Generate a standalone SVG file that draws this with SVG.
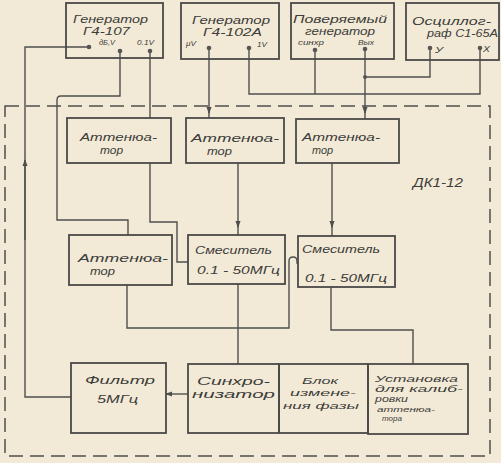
<svg xmlns="http://www.w3.org/2000/svg" width="501" height="463" viewBox="0 0 501 463">
<defs>
<style>
.bg{fill:#f2ead6}
.box{fill:none;stroke:#4a4a48;stroke-width:1.8}
.ln{fill:none;stroke:#4f4f4d;stroke-width:1.4}
.dash{fill:none;stroke:#4f4f4d;stroke-width:1.5;stroke-dasharray:14 7}
.t{font-family:"Liberation Sans","DejaVu Sans",sans-serif;font-style:italic;font-size:11px;fill:#3c3c3a}
.s{font-size:9px}
.xs{font-size:7px}
.u{font-size:8px}
.dot{fill:#555553}
</style>
<marker id="ar" viewBox="0 0 8 8" refX="7" refY="4" markerWidth="7" markerHeight="7" orient="auto" markerUnits="userSpaceOnUse">
<path d="M0,1 L8,4 L0,7 Z" fill="#4f4f4d"/>
</marker>
</defs>
<rect class="bg" x="0" y="0" width="501" height="463"/>
<path class="dash" d="M5,106 H490 V456 H5 Z"/>
<text class="t" x="413" y="187" textLength="50" lengthAdjust="spacingAndGlyphs" style="font-size:13px">ДК1-12</text>

<g id="connectors">
<path class="ln" d="M89,47 H25 V397 H71"/>
<path class="ln" d="M25,240 V160" marker-end="url(#ar)"/>
<path class="ln" d="M120,51 V96 H61 Q57,96 57,100 V220 H128 V235"/>
<path class="ln" d="M150,51 V118"/>
<path class="ln" d="M209,48 V113" marker-end="url(#ar)"/>
<path class="ln" d="M209,111 V118"/>
<path class="ln" d="M249,48 V94 H480 V48"/>
<path class="ln" d="M315,50 V94"/>
<path class="ln" d="M365,49 V113" marker-end="url(#ar)"/>
<path class="ln" d="M365,111 V119"/>
<path class="ln" d="M365,77 H430 V48"/>
<path class="ln" d="M150,163 V222 H177 V262 H188"/>
<path class="ln" d="M238,163 V227" marker-end="url(#ar)"/>
<path class="ln" d="M238,225 V235"/>
<path class="ln" d="M332,163 V227" marker-end="url(#ar)"/>
<path class="ln" d="M332,225 V236"/>
<path class="ln" d="M127,285 V328 H289 V261 Q289,257 293,257 Q297,257 297,261 V263 H298"/>
<path class="ln" d="M238,284 V364"/>
<path class="ln" d="M331,287 V330 H413 V364"/>
<path class="ln" d="M188,394 H166" marker-end="url(#ar)"/>
<circle class="dot" cx="365" cy="77" r="2"/>
</g>

<g id="gen-g4-107">
<rect class="box" x="66" y="3" width="97" height="55"/>
<text class="t" x="73" y="23" textLength="75" lengthAdjust="spacingAndGlyphs">Генератор</text>
<text class="t" x="83" y="35" textLength="47" lengthAdjust="spacingAndGlyphs">Г4-107</text>
<text class="t u" x="99" y="45" textLength="16" lengthAdjust="spacingAndGlyphs">дБ,V</text>
<text class="t u" x="137" y="45" textLength="17" lengthAdjust="spacingAndGlyphs">0.1V</text>
<circle class="dot" cx="89" cy="47" r="2.3"/>
<circle class="dot" cx="120" cy="51" r="2.3"/>
<circle class="dot" cx="150" cy="51" r="2.3"/>
</g>

<g id="gen-g4-102a">
<rect class="box" x="181" y="3" width="98" height="56"/>
<text class="t" x="192" y="24" textLength="78" lengthAdjust="spacingAndGlyphs">Генератор</text>
<text class="t" x="203" y="36" textLength="59" lengthAdjust="spacingAndGlyphs">Г4-102А</text>
<text class="t xs" x="186" y="46" textLength="10" lengthAdjust="spacingAndGlyphs">μV</text>
<text class="t u" x="257" y="47" textLength="10" lengthAdjust="spacingAndGlyphs">1V</text>
<circle class="dot" cx="209" cy="48" r="2.3"/>
<circle class="dot" cx="249" cy="48" r="2.3"/>
</g>

<g id="gen-tested">
<rect class="box" x="291" y="3" width="103" height="56"/>
<text class="t" x="293" y="23" textLength="94" lengthAdjust="spacingAndGlyphs">Поверяемый</text>
<text class="t" x="305" y="35" textLength="70" lengthAdjust="spacingAndGlyphs">генератор</text>
<text class="t xs" x="298" y="45" textLength="26" lengthAdjust="spacingAndGlyphs">синхр</text>
<text class="t xs" x="358" y="45" textLength="16" lengthAdjust="spacingAndGlyphs">Вых</text>
<circle class="dot" cx="315" cy="50" r="2.3"/>
<circle class="dot" cx="365" cy="49" r="2.3"/>
</g>

<g id="oscilloscope">
<rect class="box" x="406" y="3" width="93" height="57"/>
<text class="t" x="412" y="25" textLength="79" lengthAdjust="spacingAndGlyphs">Осциллог-</text>
<text class="t" x="427" y="37" textLength="71" lengthAdjust="spacingAndGlyphs">раф С1-65А</text>
<text class="t s" x="435" y="53" textLength="8" lengthAdjust="spacingAndGlyphs">У</text>
<text class="t s" x="483" y="52" textLength="7" lengthAdjust="spacingAndGlyphs">Х</text>
<circle class="dot" cx="430" cy="48" r="2.3"/>
<circle class="dot" cx="480" cy="48" r="2.3"/>
</g>

<g id="att1">
<rect class="box" x="67" y="118" width="104" height="45"/>
<text class="t" x="80" y="141" textLength="77" lengthAdjust="spacingAndGlyphs">Аттенюа-</text>
<text class="t" x="100" y="154" textLength="23" lengthAdjust="spacingAndGlyphs">тор</text>
</g>

<g id="att2">
<rect class="box" x="186" y="118" width="98" height="45"/>
<text class="t" x="191" y="142" textLength="88" lengthAdjust="spacingAndGlyphs">Аттенюа-</text>
<text class="t" x="207" y="155" textLength="25" lengthAdjust="spacingAndGlyphs">тор</text>
</g>

<g id="att3">
<rect class="box" x="296" y="119" width="103" height="44"/>
<text class="t" x="302" y="141" textLength="78" lengthAdjust="spacingAndGlyphs">Аттенюа-</text>
<text class="t" x="312" y="154" textLength="21" lengthAdjust="spacingAndGlyphs">тор</text>
</g>

<g id="att4">
<rect class="box" x="69" y="235" width="103" height="50"/>
<text class="t" x="78" y="262" textLength="90" lengthAdjust="spacingAndGlyphs">Аттенюа-</text>
<text class="t" x="90" y="275" textLength="25" lengthAdjust="spacingAndGlyphs">тор</text>
</g>

<g id="mixer1">
<rect class="box" x="188" y="235" width="97" height="49"/>
<text class="t" x="195" y="254" textLength="77" lengthAdjust="spacingAndGlyphs">Смеситель</text>
<text class="t" x="197" y="274" textLength="83" lengthAdjust="spacingAndGlyphs">0.1 - 50МГц</text>
</g>

<g id="mixer2">
<rect class="box" x="298" y="236" width="97" height="51"/>
<text class="t" x="302" y="253" textLength="78" lengthAdjust="spacingAndGlyphs">Смеситель</text>
<text class="t" x="305" y="282" textLength="82" lengthAdjust="spacingAndGlyphs">0.1 - 50МГц</text>
</g>

<g id="filter">
<rect class="box" x="71" y="363" width="95" height="70"/>
<text class="t" x="85" y="384" textLength="70" lengthAdjust="spacingAndGlyphs">Фильтр</text>
<text class="t" x="97" y="403" textLength="41" lengthAdjust="spacingAndGlyphs">5МГц</text>
</g>

<g id="sync">
<rect class="box" x="188" y="364" width="91" height="69"/>
<text class="t" x="197" y="385" textLength="73" lengthAdjust="spacingAndGlyphs">Синхро-</text>
<text class="t" x="192" y="398" textLength="83" lengthAdjust="spacingAndGlyphs">низатор</text>
</g>

<g id="phase">
<rect class="box" x="279" y="364" width="89" height="69"/>
<text class="t s" x="302" y="384" textLength="36" lengthAdjust="spacingAndGlyphs">Блок</text>
<text class="t s" x="290" y="396" textLength="66" lengthAdjust="spacingAndGlyphs">измене-</text>
<text class="t s" x="283" y="409" textLength="76" lengthAdjust="spacingAndGlyphs">ния фазы</text>
</g>

<g id="calib">
<rect class="box" x="368" y="364" width="100" height="70"/>
<text class="t s" x="375" y="382" textLength="83" lengthAdjust="spacingAndGlyphs">Установка</text>
<text class="t s" x="375" y="392" textLength="88" lengthAdjust="spacingAndGlyphs">для калиб-</text>
<text class="t s" x="375" y="402" textLength="33" lengthAdjust="spacingAndGlyphs">ровки</text>
<text class="t u" x="377" y="411.5" textLength="58" lengthAdjust="spacingAndGlyphs">аттенюа-</text>
<text class="t u" x="382" y="420.5" textLength="20" lengthAdjust="spacingAndGlyphs">тора</text>
</g>
</svg>
